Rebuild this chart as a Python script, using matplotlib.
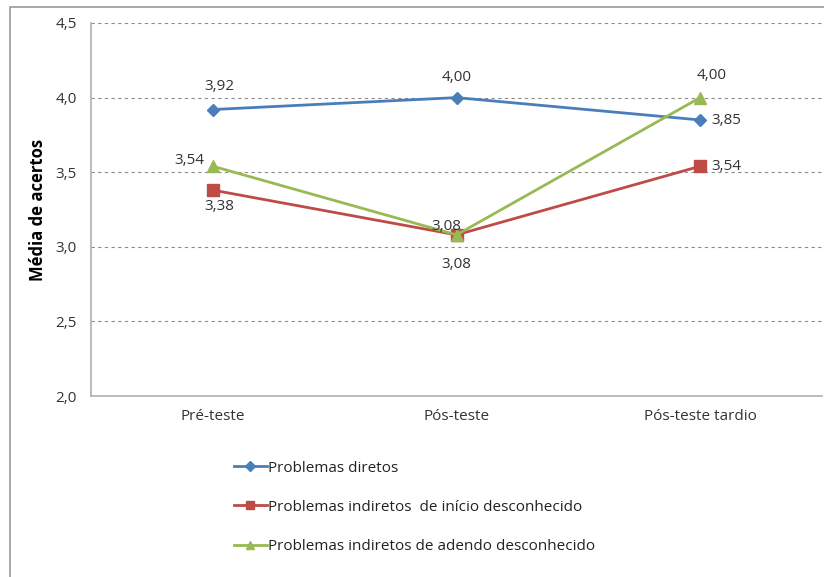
import matplotlib.pyplot as plt
from matplotlib.patches import Rectangle

categories = ['Pré-teste', 'Pós-teste', 'Pós-teste tardio']
diretos = [3.92, 4.00, 3.85]
inicio = [3.38, 3.08, 3.54]
adendo = [3.54, 3.08, 4.00]
series_names = ['Problemas diretos',
                'Problemas indiretos  de início desconhecido',
                'Problemas indiretos de adendo desconhecido']
yticks = [2.0, 2.5, 3.0, 3.5, 4.0, 4.5]


def fmt(v):
    return ('%.2f' % v).replace('.', ',')


plt.rcParams['font.family'] = ['Open Sans', 'DejaVu Sans']
plt.rcParams['font.size'] = 11

fig = plt.figure(figsize=(8.24, 5.77), dpi=100)
ax = fig.add_axes([91 / 824, 1 - 396 / 577, 731 / 824, 373 / 577])

# outer chart border (cropped at right/bottom)
fig.patches.append(Rectangle((10 / 824, -0.1), 1.2, 1 - 7 / 577 + 0.1,
                             transform=fig.transFigure, fill=False,
                             edgecolor='#9a9a9a', linewidth=1.2))

x = list(range(len(categories)))
blue, red, green = '#4A7EBB', '#BE4B48', '#98B954'
ax.plot(x, diretos, color=blue, lw=2, marker='D', ms=6, label=series_names[0])
ax.plot(x, inicio, color=red, lw=2, marker='s', ms=8, label=series_names[1])
ax.plot(x, adendo, color=green, lw=2, marker='^', ms=8, label=series_names[2])

ax.set_xlim(-0.5, 2.5)
ax.set_ylim(2.0, 4.5)
ax.set_yticks(yticks)
ax.set_yticklabels([('%.1f' % t).replace('.', ',') for t in yticks], color='#333333')
ax.set_xticks(x)
ax.set_xticklabels(categories, color='#333333')
ax.tick_params(length=0, pad=10)
ax.tick_params(axis='x', pad=9)

for t in yticks[1:]:
    ax.axhline(t, color='#8c8c8c', lw=0.8, ls=(0, (3, 3)), zorder=0)
for s in ['top', 'right']:
    ax.spines[s].set_visible(False)
for s in ['left', 'bottom']:
    ax.spines[s].set_color('#b0b0b0')
    ax.spines[s].set_linewidth(1.2)

ax.set_ylabel('Média de acertos', fontweight='bold', fontsize=12, labelpad=6)

# data labels (offsets in pixels)
offsets = {
    0: [(7, 23, 'center'), (0, 20, 'center'), (11, -1, 'left')],
    1: [(6, -16, 'center'), (0, -30, 'center'), (11, 0, 'left')],
    2: [(-8, 6, 'right'), (-10, 8, 'center'), (11, 22, 'center')],
}
for si, vals in enumerate([diretos, inicio, adendo]):
    for i, v in enumerate(vals):
        dx, dy, ha = offsets[si][i]
        ax.annotate(fmt(v), (i, v), xytext=(dx, dy), textcoords='offset pixels',
                    ha=ha, va='center', color='#333333')

fig.legend(loc='upper left', bbox_to_anchor=(226 / 824, 1 - 453 / 577),
           frameon=False, borderpad=0, labelspacing=1.58, handlelength=2.2,
           handletextpad=0.05, fontsize=11, labelcolor='#222222',
           markerscale=0.8)

fig.savefig('out.png', dpi=100)
